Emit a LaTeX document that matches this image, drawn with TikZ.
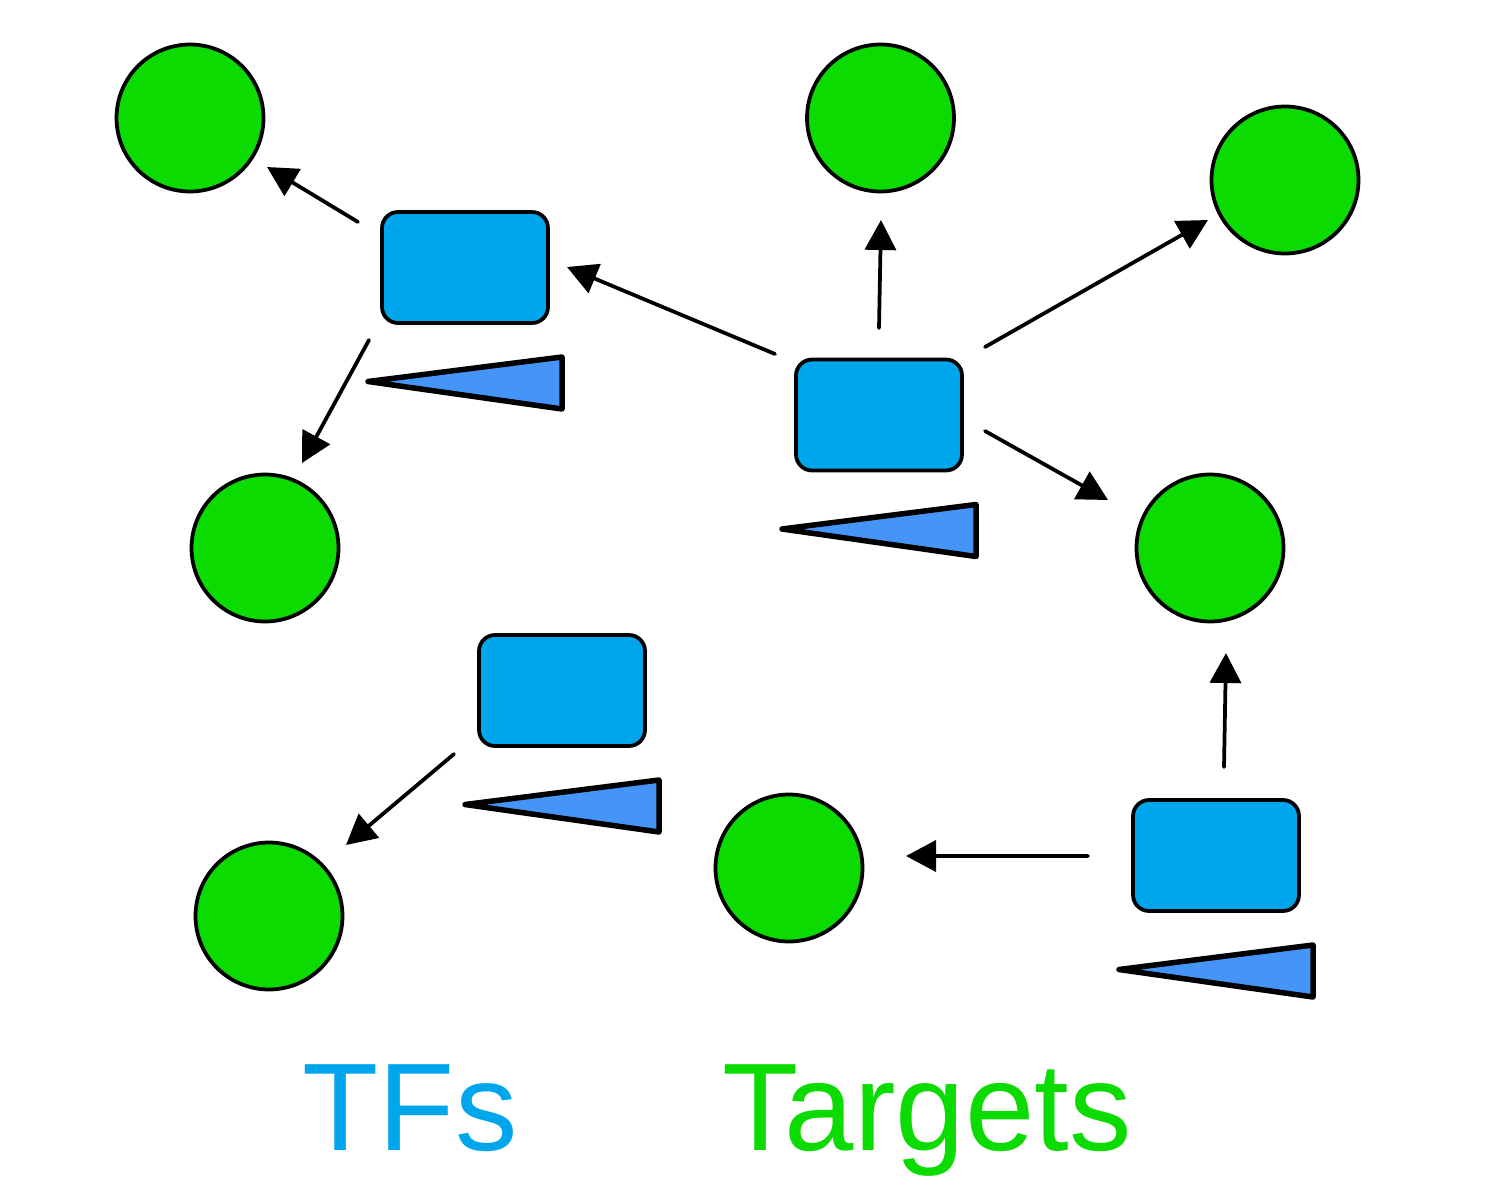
\documentclass[tikz,border=0pt]{standalone}
\usepackage{fontspec}
\setmainfont{Liberation Sans}
\usetikzlibrary{arrows.meta,calc}
\definecolor{tfblue}{HTML}{00A6EB}
\definecolor{triblue}{HTML}{4595F8}
\definecolor{tgreen}{HTML}{0BDB00}
\tikzset{
  target/.style={circle,draw=black,fill=tgreen,line width=0.075cm,minimum size=2.94cm,inner sep=0pt},
  tfbox/.style={rectangle,rounded corners=0.32cm,draw=black,fill=tfblue,line width=0.075cm,minimum width=3.32cm,minimum height=2.22cm,inner sep=0pt},
  wedge/.style={draw=black,fill=triblue,line width=0.11cm,line join=round},
  arr/.style={line width=0.075cm,line cap=round,-{Triangle[length=0.6cm,width=0.62cm]}},
  lbl/.style={font=\fontsize{71}{84}\selectfont,inner sep=0pt,anchor=base}
}
\begin{document}
\begin{tikzpicture}[x=0.02cm,y=-0.02cm]
\useasboundingbox (0,0) rectangle (1500,1200);
% targets
\node[target] (c1) at (190,118) {};
\node[target] (c2) at (880.5,118) {};
\node[target] (c3) at (1285,180) {};
\node[target] (c4) at (265,548) {};
\node[target] (c5) at (1210,548) {};
\node[target] (c6) at (789,868) {};
\node[target] (c7) at (269,916) {};
% TFs
\node[tfbox] (r1) at (465,267.5) {};
\node[tfbox] (r2) at (879,415) {};
\node[tfbox] (r3) at (562,690.5) {};
\node[tfbox] (r4) at (1216,855.5) {};
% wedges
\foreach \r in {r1,r2,r3,r4}{
  \draw[wedge] ($(\r)+(-97,114)$) -- ($(\r)+(97,89.5)$) -- ($(\r)+(97,141.5)$) -- cycle;
}
% arrows
\draw[arr] ($(r1)+(-107,-45.5)$) -- ($(c1)+(77,49)$);
\draw[arr] ($(r1)+(-96,72.5)$) -- ($(c4)+(37,-85)$);
\draw[arr] ($(r2)+(-104,-61)$) -- ($(r1)+(102,-0.5)$);
\draw[arr] ($(r2)+(0,-87)$) -- ($(c2)+(0.5,102)$);
\draw[arr] ($(r2)+(106,-68)$) -- ($(c3)+(-77,40)$);
\draw[arr] ($(r2)+(106,16)$) -- ($(c5)+(-102,-48)$);
\draw[arr] ($(r3)+(-108,63.5)$) -- ($(c7)+(77,-71)$);
\draw[arr] ($(r4)+(-128,0.5)$) -- ($(c6)+(117,-12)$);
\draw[arr] ($(r4)+(8,-88.5)$) -- ($(c5)+(16,105)$);
% labels
\node[lbl,text=tfblue] (tfs) at (410,1150) {TFs};
\node[lbl,text=tgreen] (tgt) at (927,1150) {Targets};
\end{tikzpicture}
\end{document}
